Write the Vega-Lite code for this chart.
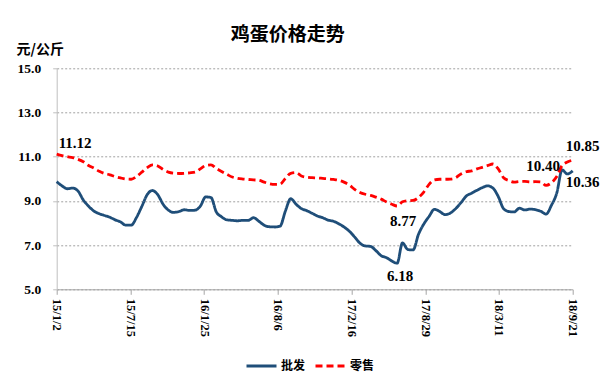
{
  "$schema": "https://vega.github.io/schema/vega-lite/v6.json",
  "width": 516,
  "height": 221,
  "autosize": {"type": "none"},
  "padding": {"left": 56.7, "top": 68.3, "right": 32.3, "bottom": 94.7},
  "background": "white",
  "config": {
    "view": {"stroke": null},
    "axis": {"labelFont": "Liberation Serif", "labelFontWeight": "bold", "labelColor": "black"}
  },
  "title": {"text": "鸡蛋价格走势", "font": "Noto Sans CJK SC", "fontSize": 19, "fontWeight": "bold", "color": "black", "anchor": "middle", "frame": "group", "dx": -27, "offset": -3},
  "datasets": {
    "prices": [
      {"d":"2015/01/02","批发":9.87,"零售":11.12},
      {"d":"2015/01/16","批发":9.68,"零售":11.05},
      {"d":"2015/01/30","批发":9.55,"零售":11.00},
      {"d":"2015/02/13","批发":9.58,"零售":10.96},
      {"d":"2015/02/27","批发":9.45,"零售":10.88},
      {"d":"2015/03/13","批发":9.04,"零售":10.77},
      {"d":"2015/03/27","批发":8.76,"零售":10.60},
      {"d":"2015/04/10","批发":8.54,"零售":10.48},
      {"d":"2015/04/24","批发":8.42,"零售":10.34},
      {"d":"2015/05/08","批发":8.34,"零售":10.24},
      {"d":"2015/05/22","批发":8.26,"零售":10.18},
      {"d":"2015/06/05","批发":8.14,"零售":10.10},
      {"d":"2015/06/19","批发":8.05,"零售":10.04},
      {"d":"2015/07/03","批发":7.90,"零售":9.99},
      {"d":"2015/07/17","批发":7.90,"零售":9.98},
      {"d":"2015/07/31","批发":8.25,"零售":10.10},
      {"d":"2015/08/14","批发":8.75,"零售":10.30},
      {"d":"2015/08/28","批发":9.28,"零售":10.50},
      {"d":"2015/09/11","批发":9.47,"零售":10.63},
      {"d":"2015/09/25","批发":9.28,"零售":10.58},
      {"d":"2015/10/09","批发":8.85,"零售":10.42},
      {"d":"2015/10/23","批发":8.58,"零售":10.30},
      {"d":"2015/11/06","批发":8.48,"零售":10.25},
      {"d":"2015/11/20","批发":8.52,"零售":10.24},
      {"d":"2015/12/04","批发":8.60,"零售":10.25},
      {"d":"2015/12/18","批发":8.57,"零售":10.27},
      {"d":"2016/01/01","批发":8.58,"零售":10.30},
      {"d":"2016/01/15","批发":8.76,"零售":10.45},
      {"d":"2016/01/29","批发":9.18,"零售":10.60},
      {"d":"2016/02/12","批发":9.15,"零售":10.63},
      {"d":"2016/02/26","批发":8.50,"零售":10.47},
      {"d":"2016/03/11","批发":8.28,"零售":10.33},
      {"d":"2016/03/25","批发":8.14,"零售":10.20},
      {"d":"2016/04/08","批发":8.12,"零售":10.08},
      {"d":"2016/04/22","批发":8.10,"零售":10.02},
      {"d":"2016/05/06","批发":8.12,"零售":9.99},
      {"d":"2016/05/20","批发":8.12,"零售":9.97},
      {"d":"2016/06/03","批发":8.24,"零售":9.95},
      {"d":"2016/06/17","批发":8.08,"零售":9.93},
      {"d":"2016/07/01","批发":7.90,"零售":9.85},
      {"d":"2016/07/15","批发":7.83,"零售":9.78},
      {"d":"2016/07/29","批发":7.82,"零售":9.75},
      {"d":"2016/08/12","批发":7.86,"零售":9.76},
      {"d":"2016/08/26","批发":8.55,"零售":10.02},
      {"d":"2016/09/09","批发":9.10,"零售":10.25},
      {"d":"2016/09/23","批发":8.85,"零售":10.28},
      {"d":"2016/10/07","批发":8.65,"零售":10.13},
      {"d":"2016/10/21","批发":8.56,"零售":10.07},
      {"d":"2016/11/04","批发":8.44,"零售":10.05},
      {"d":"2016/11/18","批发":8.32,"零售":10.04},
      {"d":"2016/12/02","批发":8.24,"零售":10.02},
      {"d":"2016/12/16","批发":8.13,"零售":10.00},
      {"d":"2016/12/30","批发":8.08,"零售":9.97},
      {"d":"2017/01/13","批发":7.97,"零售":9.93},
      {"d":"2017/01/27","批发":7.82,"零售":9.85},
      {"d":"2017/02/10","批发":7.63,"零售":9.72},
      {"d":"2017/02/24","批发":7.37,"零售":9.52},
      {"d":"2017/03/10","批发":7.09,"零售":9.38},
      {"d":"2017/03/24","批发":6.96,"零售":9.30},
      {"d":"2017/04/07","批发":6.94,"零售":9.25},
      {"d":"2017/04/21","批发":6.75,"零售":9.17},
      {"d":"2017/05/05","批发":6.52,"零售":9.08},
      {"d":"2017/05/19","批发":6.43,"零售":8.95},
      {"d":"2017/06/02","批发":6.28,"零售":8.85},
      {"d":"2017/06/16","批发":6.18,"零售":8.77},
      {"d":"2017/06/30","批发":7.10,"零售":8.96},
      {"d":"2017/07/14","批发":6.80,"零售":9.01},
      {"d":"2017/07/28","批发":6.78,"零售":9.02},
      {"d":"2017/08/11","批发":7.48,"零售":9.15},
      {"d":"2017/08/25","批发":7.95,"零售":9.40},
      {"d":"2017/09/08","批发":8.30,"零售":9.75},
      {"d":"2017/09/22","批发":8.62,"零售":9.95},
      {"d":"2017/10/06","批发":8.52,"零售":9.98},
      {"d":"2017/10/20","批发":8.38,"零售":9.98},
      {"d":"2017/11/03","批发":8.45,"零售":9.99},
      {"d":"2017/11/17","批发":8.65,"零售":10.05},
      {"d":"2017/12/01","批发":8.92,"零售":10.22},
      {"d":"2017/12/15","批发":9.22,"零售":10.32},
      {"d":"2017/12/29","批发":9.35,"零售":10.36},
      {"d":"2018/01/12","批发":9.48,"零售":10.45},
      {"d":"2018/01/26","批发":9.60,"零售":10.52},
      {"d":"2018/02/09","批发":9.68,"零售":10.60},
      {"d":"2018/02/23","批发":9.58,"零售":10.67},
      {"d":"2018/03/09","批发":9.20,"零售":10.45},
      {"d":"2018/03/23","批发":8.65,"零售":10.05},
      {"d":"2018/04/06","批发":8.52,"零售":9.92},
      {"d":"2018/04/20","批发":8.50,"零售":9.85},
      {"d":"2018/05/04","批发":8.67,"零售":9.88},
      {"d":"2018/05/18","批发":8.59,"零售":9.88},
      {"d":"2018/06/01","批发":8.63,"零售":9.86},
      {"d":"2018/06/15","批发":8.60,"零售":9.87},
      {"d":"2018/06/29","批发":8.53,"零售":9.86},
      {"d":"2018/07/13","批发":8.40,"零售":9.70},
      {"d":"2018/07/27","批发":8.80,"零售":9.82},
      {"d":"2018/08/10","批发":9.35,"零售":10.10},
      {"d":"2018/08/24","批发":10.40,"零售":10.60},
      {"d":"2018/09/07","批发":10.22,"零售":10.76},
      {"d":"2018/09/21","批发":10.36,"零售":10.85}
    ],
    "labels": [
      {"d":"2015/01/02","v":11.12,"t":"11.12"},
      {"d":"2017/06/16","v":8.77,"t":"8.77"},
      {"d":"2017/06/16","v":6.18,"t":"6.18"},
      {"d":"2018/08/24","v":10.40,"t":"10.40"},
      {"d":"2018/09/21","v":10.36,"t":"10.36"},
      {"d":"2018/09/21","v":10.85,"t":"10.85"}
    ]
  },
  "encoding": {
    "x": {
      "field": "d", "type": "temporal",
      "scale": {"domain": [{"year":2015,"month":1,"date":2},{"year":2018,"month":9,"date":21}]},
      "axis": {
        "title": null, "format": "%y/%-m/%-d", "labelAngle": 90, "labelFontSize": 12.5,
        "values": [{"year":2015,"month":1,"date":2},{"year":2015,"month":7,"date":15},{"year":2016,"month":1,"date":25},{"year":2016,"month":8,"date":6},{"year":2017,"month":2,"date":16},{"year":2017,"month":8,"date":29},{"year":2018,"month":3,"date":11},{"year":2018,"month":9,"date":21}],
        "grid": false, "domainColor": "#a6a6a6", "tickColor": "#a6a6a6", "tickSize": 5, "labelPadding": 4, "labelOverlap": false, "labelFlush": false, "labelBound": false
      }
    },
    "y": {
      "field": "v", "type": "quantitative",
      "scale": {"domain": [5, 15], "nice": false, "zero": false},
      "axis": {
        "title": "元/公斤", "titleAngle": 0, "titleX": -40.7, "titleY": -19.3, "titleAlign": "left", "titleBaseline": "middle",
        "titleFont": "Noto Sans CJK SC", "titleFontSize": 14, "titleFontWeight": "bold", "titleColor": "black",
        "values": [5, 7, 9, 11, 13, 15], "format": ".1f", "labelFontSize": 13.5, "labelPadding": 12,
        "grid": true, "gridColor": "#a0a0a0", "gridDash": [2, 2], "gridWidth": 1,
        "domainColor": "#bfbfbf", "tickColor": "#bfbfbf", "tickSize": 4
      }
    }
  },
  "layer": [
    {
      "data": {"name": "prices"},
      "transform": [{"fold": ["批发", "零售"], "as": ["s", "v"]}],
      "mark": {"type": "line", "strokeWidth": 2.8, "interpolate": "monotone"},
      "encoding": {
        "color": {
          "field": "s", "type": "nominal",
          "scale": {"domain": ["批发", "零售"], "range": ["#1f4e79", "#ff0000"]},
          "legend": {"title": null, "orient": "none", "legendX": 188.3, "legendY": 281, "direction": "horizontal", "symbolType": "stroke", "symbolSize": 900, "symbolStrokeWidth": 3, "labelFont": "Noto Sans CJK SC", "labelFontSize": 12, "labelFontWeight": "bold", "labelColor": "black", "columnPadding": 3, "labelOffset": 3}
        },
        "strokeDash": {
          "field": "s", "type": "nominal",
          "scale": {"domain": ["批发", "零售"], "range": [[1, 0], [7, 4]]},
          "legend": {"title": null, "orient": "none", "legendX": 188.3, "legendY": 281, "direction": "horizontal", "symbolType": "stroke", "symbolSize": 900, "symbolStrokeWidth": 3, "labelFont": "Noto Sans CJK SC", "labelFontSize": 12, "labelFontWeight": "bold", "labelColor": "black", "columnPadding": 3, "labelOffset": 3}
        }
      }
    },
    {
      "data": {"name": "labels"},
      "transform": [{"filter": "datum.t == '11.12'"}],
      "mark": {"type": "text", "font": "Liberation Serif", "fontWeight": "bold", "fontSize": 15, "color": "black", "align": "left", "baseline": "middle", "dx": 2, "dy": -11},
      "encoding": {"text": {"field": "t"}}
    },
    {
      "data": {"name": "labels"},
      "transform": [{"filter": "datum.t == '8.77'"}],
      "mark": {"type": "text", "font": "Liberation Serif", "fontWeight": "bold", "fontSize": 15, "color": "black", "align": "center", "baseline": "middle", "dx": 6, "dy": 15},
      "encoding": {"text": {"field": "t"}}
    },
    {
      "data": {"name": "labels"},
      "transform": [{"filter": "datum.t == '6.18'"}],
      "mark": {"type": "text", "font": "Liberation Serif", "fontWeight": "bold", "fontSize": 15, "color": "black", "align": "center", "baseline": "middle", "dx": 3, "dy": 13},
      "encoding": {"text": {"field": "t"}}
    },
    {
      "data": {"name": "labels"},
      "transform": [{"filter": "datum.t == '10.40'"}],
      "mark": {"type": "text", "font": "Liberation Serif", "fontWeight": "bold", "fontSize": 15, "color": "black", "align": "right", "baseline": "middle", "dx": -2, "dy": -4},
      "encoding": {"text": {"field": "t"}}
    },
    {
      "data": {"name": "labels"},
      "transform": [{"filter": "datum.t == '10.36'"}],
      "mark": {"type": "text", "font": "Liberation Serif", "fontWeight": "bold", "fontSize": 15, "color": "black", "align": "center", "baseline": "middle", "dx": 10, "dy": 11},
      "encoding": {"text": {"field": "t"}}
    },
    {
      "data": {"name": "labels"},
      "transform": [{"filter": "datum.t == '10.85'"}],
      "mark": {"type": "text", "font": "Liberation Serif", "fontWeight": "bold", "fontSize": 15, "color": "black", "align": "center", "baseline": "middle", "dx": 10, "dy": -14},
      "encoding": {"text": {"field": "t"}}
    }
  ]
}
